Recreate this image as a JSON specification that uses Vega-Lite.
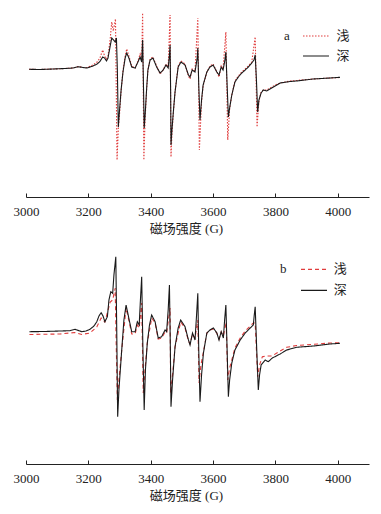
{
  "$schema": "https://vega.github.io/schema/vega-lite/v6.json",
  "padding": {"left": 13, "top": 7, "right": 5, "bottom": 5},
  "background": "white",
  "spacing": 15,
  "config": {
    "view": {"stroke": null},
    "axis": {
      "grid": false,
      "domainColor": "#222",
      "tickColor": "#222",
      "labelColor": "#222",
      "titleColor": "#222",
      "labelFont": "'Liberation Serif', 'Times New Roman', serif",
      "labelFontSize": 13,
      "titleFont": "'Liberation Serif', 'Noto Sans CJK SC', serif",
      "titleFontSize": 13,
      "titleFontWeight": "normal"
    },
    "legend": {
      "orient": "none",
      "direction": "vertical",
      "symbolType": "M-3,0H3",
      "symbolSize": 75,
      "symbolStrokeWidth": 1.2,
      "labelFont": "'Noto Sans CJK SC'",
      "labelFontSize": 13,
      "labelColor": "#222",
      "titleFont": "'Liberation Serif', 'Times New Roman', serif",
      "titleFontSize": 13,
      "titleFontWeight": "normal",
      "titleColor": "#222",
      "titleOrient": "left",
      "titleAnchor": "start",
      "titleBaseline": "top",
      "padding": 0
    }
  },
  "vconcat": [
    {
      "width": 343,
      "height": 190,
      "data": {"values": [
        {"s":"浅","x":3010,"y":-0.3},{"s":"浅","x":3045,"y":-0.5},{"s":"浅","x":3087,"y":0},{"s":"浅","x":3125,"y":0.5},{"s":"浅","x":3151,"y":1},{"s":"浅","x":3167,"y":2.5},{"s":"浅","x":3183,"y":1.5},{"s":"浅","x":3196,"y":1.5},{"s":"浅","x":3215,"y":4},{"s":"浅","x":3228,"y":7},{"s":"浅","x":3237,"y":11},{"s":"浅","x":3246,"y":19},{"s":"浅","x":3252,"y":13},{"s":"浅","x":3258,"y":10},{"s":"浅","x":3263,"y":13},{"s":"浅","x":3270,"y":30},{"s":"浅","x":3275,"y":47},{"s":"浅","x":3280,"y":38},{"s":"浅","x":3287,"y":50},{"s":"浅","x":3292,"y":-91},{"s":"浅","x":3296,"y":-60},{"s":"浅","x":3300,"y":-45},{"s":"浅","x":3305,"y":-22},{"s":"浅","x":3311,"y":-2},{"s":"浅","x":3318,"y":13},{"s":"浅","x":3323,"y":20},{"s":"浅","x":3330,"y":13},{"s":"浅","x":3339,"y":3},{"s":"浅","x":3350,"y":1},{"s":"浅","x":3359,"y":8},{"s":"浅","x":3366,"y":15},{"s":"浅","x":3371,"y":9},{"s":"浅","x":3374,"y":56},{"s":"浅","x":3378,"y":-91},{"s":"浅","x":3382,"y":-50},{"s":"浅","x":3387,"y":-20},{"s":"浅","x":3391,"y":-1},{"s":"浅","x":3398,"y":10},{"s":"浅","x":3407,"y":12},{"s":"浅","x":3419,"y":3},{"s":"浅","x":3430,"y":-5},{"s":"浅","x":3440,"y":-1},{"s":"浅","x":3449,"y":5},{"s":"浅","x":3456,"y":2},{"s":"浅","x":3462,"y":54},{"s":"浅","x":3465,"y":-88},{"s":"浅","x":3468,"y":-65},{"s":"浅","x":3473,"y":-42},{"s":"浅","x":3478,"y":-23},{"s":"浅","x":3488,"y":3},{"s":"浅","x":3497,"y":8},{"s":"浅","x":3510,"y":5},{"s":"浅","x":3521,"y":-7},{"s":"浅","x":3526,"y":-10},{"s":"浅","x":3533,"y":0},{"s":"浅","x":3542,"y":-2},{"s":"浅","x":3551,"y":51},{"s":"浅","x":3556,"y":-81},{"s":"浅","x":3563,"y":-33},{"s":"浅","x":3568,"y":-17},{"s":"浅","x":3580,"y":-3},{"s":"浅","x":3590,"y":3},{"s":"浅","x":3600,"y":5},{"s":"浅","x":3612,"y":-3},{"s":"浅","x":3619,"y":-8},{"s":"浅","x":3626,"y":3},{"s":"浅","x":3632,"y":0},{"s":"浅","x":3641,"y":37},{"s":"浅","x":3647,"y":-71},{"s":"浅","x":3653,"y":-40},{"s":"浅","x":3660,"y":-26},{"s":"浅","x":3670,"y":-12},{"s":"浅","x":3681,"y":-7},{"s":"浅","x":3692,"y":-3},{"s":"浅","x":3703,"y":0},{"s":"浅","x":3713,"y":3},{"s":"浅","x":3724,"y":7},{"s":"浅","x":3735,"y":32},{"s":"浅","x":3741,"y":-58},{"s":"浅","x":3747,"y":-32},{"s":"浅","x":3754,"y":-23},{"s":"浅","x":3761,"y":-21},{"s":"浅","x":3772,"y":-21},{"s":"浅","x":3788,"y":-18},{"s":"浅","x":3799,"y":-16},{"s":"浅","x":3815,"y":-14},{"s":"浅","x":3847,"y":-12},{"s":"浅","x":3868,"y":-11.5},{"s":"浅","x":3921,"y":-10},{"s":"浅","x":3975,"y":-9},{"s":"浅","x":4007,"y":-8.5},
        {"s":"深","x":3010,"y":-0.3},{"s":"深","x":3045,"y":-0.5},{"s":"深","x":3087,"y":0},{"s":"深","x":3125,"y":0.5},{"s":"深","x":3151,"y":1},{"s":"深","x":3167,"y":2.3},{"s":"深","x":3183,"y":1.5},{"s":"深","x":3196,"y":1},{"s":"深","x":3215,"y":3},{"s":"深","x":3228,"y":5},{"s":"深","x":3237,"y":7.5},{"s":"深","x":3246,"y":12},{"s":"深","x":3252,"y":11},{"s":"深","x":3258,"y":8},{"s":"深","x":3263,"y":11},{"s":"深","x":3270,"y":23},{"s":"深","x":3275,"y":31},{"s":"深","x":3281,"y":29},{"s":"深","x":3286,"y":27},{"s":"深","x":3290,"y":31},{"s":"深","x":3293,"y":-1},{"s":"深","x":3296,"y":-58},{"s":"深","x":3300,"y":-41},{"s":"深","x":3305,"y":-21},{"s":"深","x":3311,"y":-3},{"s":"深","x":3318,"y":11},{"s":"深","x":3323,"y":16},{"s":"深","x":3330,"y":11},{"s":"深","x":3339,"y":2},{"s":"深","x":3350,"y":1},{"s":"深","x":3359,"y":7},{"s":"深","x":3366,"y":12},{"s":"深","x":3371,"y":7},{"s":"深","x":3374,"y":29},{"s":"深","x":3377,"y":-21},{"s":"深","x":3379,"y":-59},{"s":"深","x":3382,"y":-46},{"s":"深","x":3387,"y":-19},{"s":"深","x":3391,"y":-1},{"s":"深","x":3398,"y":9},{"s":"深","x":3407,"y":11},{"s":"深","x":3419,"y":2},{"s":"深","x":3430,"y":-4},{"s":"深","x":3440,"y":-1},{"s":"深","x":3449,"y":4},{"s":"深","x":3456,"y":1},{"s":"深","x":3460,"y":14},{"s":"深","x":3462,"y":24},{"s":"深","x":3464,"y":-26},{"s":"深","x":3465,"y":-76},{"s":"深","x":3468,"y":-61},{"s":"深","x":3473,"y":-41},{"s":"深","x":3478,"y":-23},{"s":"深","x":3488,"y":2},{"s":"深","x":3497,"y":7},{"s":"深","x":3510,"y":4},{"s":"深","x":3521,"y":-6},{"s":"深","x":3526,"y":-8},{"s":"深","x":3533,"y":-1},{"s":"深","x":3542,"y":-3},{"s":"深","x":3549,"y":11},{"s":"深","x":3551,"y":21},{"s":"深","x":3554,"y":-16},{"s":"深","x":3558,"y":-51},{"s":"深","x":3563,"y":-31},{"s":"深","x":3568,"y":-16},{"s":"深","x":3580,"y":-3},{"s":"深","x":3590,"y":2},{"s":"深","x":3600,"y":4},{"s":"深","x":3612,"y":-3},{"s":"深","x":3619,"y":-6},{"s":"深","x":3626,"y":2},{"s":"深","x":3632,"y":-1},{"s":"深","x":3638,"y":9},{"s":"深","x":3641,"y":17},{"s":"深","x":3645,"y":-16},{"s":"深","x":3649,"y":-48},{"s":"深","x":3653,"y":-39},{"s":"深","x":3660,"y":-26},{"s":"深","x":3670,"y":-13},{"s":"深","x":3681,"y":-8},{"s":"深","x":3692,"y":-4},{"s":"深","x":3703,"y":-1},{"s":"深","x":3713,"y":2},{"s":"深","x":3724,"y":6},{"s":"深","x":3731,"y":9},{"s":"深","x":3735,"y":14},{"s":"深","x":3739,"y":-11},{"s":"深","x":3743,"y":-43},{"s":"深","x":3747,"y":-31},{"s":"深","x":3754,"y":-24},{"s":"深","x":3761,"y":-21},{"s":"深","x":3772,"y":-22},{"s":"深","x":3788,"y":-19},{"s":"深","x":3799,"y":-17},{"s":"深","x":3815,"y":-14},{"s":"深","x":3847,"y":-12.5},{"s":"深","x":3868,"y":-12},{"s":"深","x":3921,"y":-10},{"s":"深","x":3975,"y":-9},{"s":"深","x":4007,"y":-8.3}
      ]},
      "mark": {"type": "line", "strokeWidth": 1.1, "interpolate": "linear"},
      "encoding": {
        "x": {"field": "x", "type": "quantitative",
              "scale": {"domain": [3000, 4100], "nice": false, "zero": false},
              "axis": {"values": [3000, 3200, 3400, 3600, 3800, 4000], "format": "d", "tickSize": -4, "labelPadding": 12, "labelFlush": false,
                       "title": "磁场强度 (G)", "titleX": 160, "titleY": 25, "titleBaseline": "top", "titleAnchor": null}},
        "y": {"field": "y", "type": "quantitative", "scale": {"domain": [-128, 62], "nice": false, "zero": false}, "axis": null},
        "color": {"field": "s", "type": "nominal", "scale": {"domain": ["浅", "深"], "range": ["#e03c3c", "#1a1a1a"]},
                  "legend": {"title": "a", "legendX": 258, "legendY": 22.5, "titlePadding": 19.5, "rowPadding": 6, "labelOffset": 14}},
        "strokeDash": {"field": "s", "type": "nominal", "scale": {"domain": ["浅", "深"], "range": [[1.5, 1.5], [1, 0]]},
                  "legend": {"title": "a", "legendX": 258, "legendY": 22.5, "titlePadding": 19.5, "rowPadding": 6, "labelOffset": 14}}
      }
    },
    {
      "width": 343,
      "height": 214,
      "data": {"values": [
        {"s":"浅","x":3011,"y":-2.5},{"s":"浅","x":3109,"y":-2},{"s":"浅","x":3157,"y":-0.5},{"s":"浅","x":3179,"y":-2.5},{"s":"浅","x":3205,"y":-1},{"s":"浅","x":3227,"y":5},{"s":"浅","x":3241,"y":14},{"s":"浅","x":3253,"y":10},{"s":"浅","x":3270,"y":30},{"s":"浅","x":3278,"y":32},{"s":"浅","x":3286,"y":44},{"s":"浅","x":3289,"y":-8},{"s":"浅","x":3293,"y":-68},{"s":"浅","x":3298,"y":-48},{"s":"浅","x":3307,"y":-18},{"s":"浅","x":3321,"y":24},{"s":"浅","x":3331,"y":10},{"s":"浅","x":3339,"y":-2},{"s":"浅","x":3350,"y":-2},{"s":"浅","x":3357,"y":7},{"s":"浅","x":3363,"y":4},{"s":"浅","x":3371,"y":29},{"s":"浅","x":3376,"y":-61},{"s":"浅","x":3383,"y":-33},{"s":"浅","x":3389,"y":-11},{"s":"浅","x":3403,"y":14},{"s":"浅","x":3414,"y":9},{"s":"浅","x":3424,"y":-7},{"s":"浅","x":3435,"y":-6},{"s":"浅","x":3446,"y":0},{"s":"浅","x":3451,"y":-1},{"s":"浅","x":3462,"y":24},{"s":"浅","x":3464,"y":-61},{"s":"浅","x":3470,"y":-43},{"s":"浅","x":3478,"y":-15},{"s":"浅","x":3496,"y":10},{"s":"浅","x":3510,"y":4},{"s":"浅","x":3521,"y":-9},{"s":"浅","x":3526,"y":-12},{"s":"浅","x":3534,"y":-2},{"s":"浅","x":3542,"y":-6},{"s":"浅","x":3551,"y":12},{"s":"浅","x":3555,"y":-51},{"s":"浅","x":3561,"y":-33},{"s":"浅","x":3569,"y":-20},{"s":"浅","x":3580,"y":-1},{"s":"浅","x":3590,"y":2},{"s":"浅","x":3601,"y":3},{"s":"浅","x":3612,"y":-1},{"s":"浅","x":3619,"y":-7},{"s":"浅","x":3626,"y":0},{"s":"浅","x":3633,"y":-4},{"s":"浅","x":3642,"y":10},{"s":"浅","x":3647,"y":-48},{"s":"浅","x":3653,"y":-36},{"s":"浅","x":3660,"y":-28},{"s":"浅","x":3670,"y":-16},{"s":"浅","x":3687,"y":-6},{"s":"浅","x":3703,"y":1},{"s":"浅","x":3719,"y":6},{"s":"浅","x":3729,"y":9},{"s":"浅","x":3735,"y":9},{"s":"浅","x":3743,"y":-44.7},{"s":"浅","x":3749,"y":-33},{"s":"浅","x":3758,"y":-24.7},{"s":"浅","x":3772,"y":-24},{"s":"浅","x":3789,"y":-24},{"s":"浅","x":3815,"y":-19},{"s":"浅","x":3836,"y":-15.3},{"s":"浅","x":3868,"y":-13.5},{"s":"浅","x":3922,"y":-12.3},{"s":"浅","x":3975,"y":-11},{"s":"浅","x":4007,"y":-10.7},
        {"s":"深","x":3011,"y":0.3},{"s":"深","x":3061,"y":0.5},{"s":"深","x":3109,"y":1},{"s":"深","x":3141,"y":1.3},{"s":"深","x":3157,"y":2.7},{"s":"深","x":3179,"y":0.3},{"s":"深","x":3192,"y":1},{"s":"深","x":3205,"y":2.7},{"s":"深","x":3218,"y":6},{"s":"深","x":3227,"y":10.3},{"s":"深","x":3234,"y":16},{"s":"深","x":3241,"y":19.3},{"s":"深","x":3247,"y":16},{"s":"深","x":3253,"y":10.3},{"s":"深","x":3261,"y":15.3},{"s":"深","x":3266,"y":32},{"s":"深","x":3272,"y":40.3},{"s":"深","x":3278,"y":38.7},{"s":"深","x":3282,"y":57},{"s":"深","x":3288,"y":75.3},{"s":"深","x":3291,"y":2},{"s":"深","x":3294,"y":-84.7},{"s":"深","x":3298,"y":-58},{"s":"深","x":3307,"y":-18},{"s":"深","x":3314,"y":12},{"s":"深","x":3321,"y":27},{"s":"深","x":3331,"y":12},{"s":"深","x":3339,"y":0.3},{"s":"深","x":3350,"y":0.3},{"s":"深","x":3357,"y":10.3},{"s":"深","x":3363,"y":7},{"s":"深","x":3367,"y":32},{"s":"深","x":3371,"y":55.3},{"s":"深","x":3375,"y":-18},{"s":"深","x":3379,"y":-78},{"s":"深","x":3383,"y":-38},{"s":"深","x":3389,"y":-11},{"s":"深","x":3396,"y":7},{"s":"深","x":3403,"y":17},{"s":"深","x":3414,"y":10.3},{"s":"深","x":3424,"y":-6},{"s":"深","x":3435,"y":-4.7},{"s":"深","x":3446,"y":2},{"s":"深","x":3451,"y":0.3},{"s":"深","x":3456,"y":22},{"s":"深","x":3460,"y":47},{"s":"深","x":3463,"y":-18},{"s":"深","x":3465,"y":-74.7},{"s":"深","x":3470,"y":-48},{"s":"深","x":3478,"y":-14.7},{"s":"深","x":3488,"y":4},{"s":"深","x":3496,"y":12},{"s":"深","x":3510,"y":5.3},{"s":"深","x":3521,"y":-8},{"s":"深","x":3526,"y":-13},{"s":"深","x":3534,"y":-1},{"s":"深","x":3542,"y":-8},{"s":"深","x":3547,"y":17},{"s":"深","x":3551,"y":38.7},{"s":"深","x":3554,"y":-18},{"s":"深","x":3558,"y":-69.7},{"s":"深","x":3563,"y":-43},{"s":"深","x":3569,"y":-21},{"s":"深","x":3580,"y":-1},{"s":"深","x":3590,"y":2},{"s":"深","x":3601,"y":4},{"s":"深","x":3612,"y":-1},{"s":"深","x":3619,"y":-8},{"s":"深","x":3626,"y":0.3},{"s":"深","x":3633,"y":-6},{"s":"深","x":3637,"y":12},{"s":"深","x":3641,"y":27},{"s":"深","x":3645,"y":-18},{"s":"深","x":3649,"y":-64.7},{"s":"深","x":3653,"y":-48},{"s":"深","x":3660,"y":-31},{"s":"深","x":3670,"y":-18},{"s":"深","x":3687,"y":-8},{"s":"深","x":3703,"y":-1},{"s":"深","x":3719,"y":4},{"s":"深","x":3729,"y":7},{"s":"深","x":3732,"y":17},{"s":"深","x":3735,"y":25.3},{"s":"深","x":3740,"y":-18},{"s":"深","x":3745,"y":-58},{"s":"深","x":3749,"y":-43},{"s":"深","x":3754,"y":-33},{"s":"深","x":3767,"y":-28},{"s":"深","x":3777,"y":-29.7},{"s":"深","x":3790,"y":-26},{"s":"深","x":3815,"y":-22},{"s":"深","x":3836,"y":-18},{"s":"深","x":3868,"y":-15.3},{"s":"深","x":3922,"y":-14},{"s":"深","x":3975,"y":-12},{"s":"深","x":4007,"y":-11.3}
      ]},
      "mark": {"type": "line", "strokeWidth": 1.1, "interpolate": "linear"},
      "encoding": {
        "x": {"field": "x", "type": "quantitative",
              "scale": {"domain": [3000, 4100], "nice": false, "zero": false},
              "axis": {"values": [3000, 3200, 3400, 3600, 3800, 4000], "format": "d", "tickSize": -4, "labelPadding": 12, "labelFlush": false,
                       "title": "磁场强度 (G)", "titleX": 160, "titleY": 25, "titleBaseline": "top", "titleAnchor": null}},
        "y": {"field": "y", "type": "quantitative", "scale": {"domain": [-132, 82], "nice": false, "zero": false}, "axis": null},
        "color": {"field": "s", "type": "nominal", "scale": {"domain": ["浅", "深"], "range": ["#e03c3c", "#1a1a1a"]},
                  "legend": {"title": "b", "legendX": 254, "legendY": 12.8, "titlePadding": 20.5, "rowPadding": 7, "labelOffset": 13.3}},
        "strokeDash": {"field": "s", "type": "nominal", "scale": {"domain": ["浅", "深"], "range": [[4, 3], [1, 0]]},
                  "legend": {"title": "b", "legendX": 254, "legendY": 12.8, "titlePadding": 20.5, "rowPadding": 7, "labelOffset": 13.3}}
      }
    }
  ],
  "resolve": {"scale": {"color": "independent", "strokeDash": "independent"}, "legend": {"color": "independent", "strokeDash": "independent"}}
}
